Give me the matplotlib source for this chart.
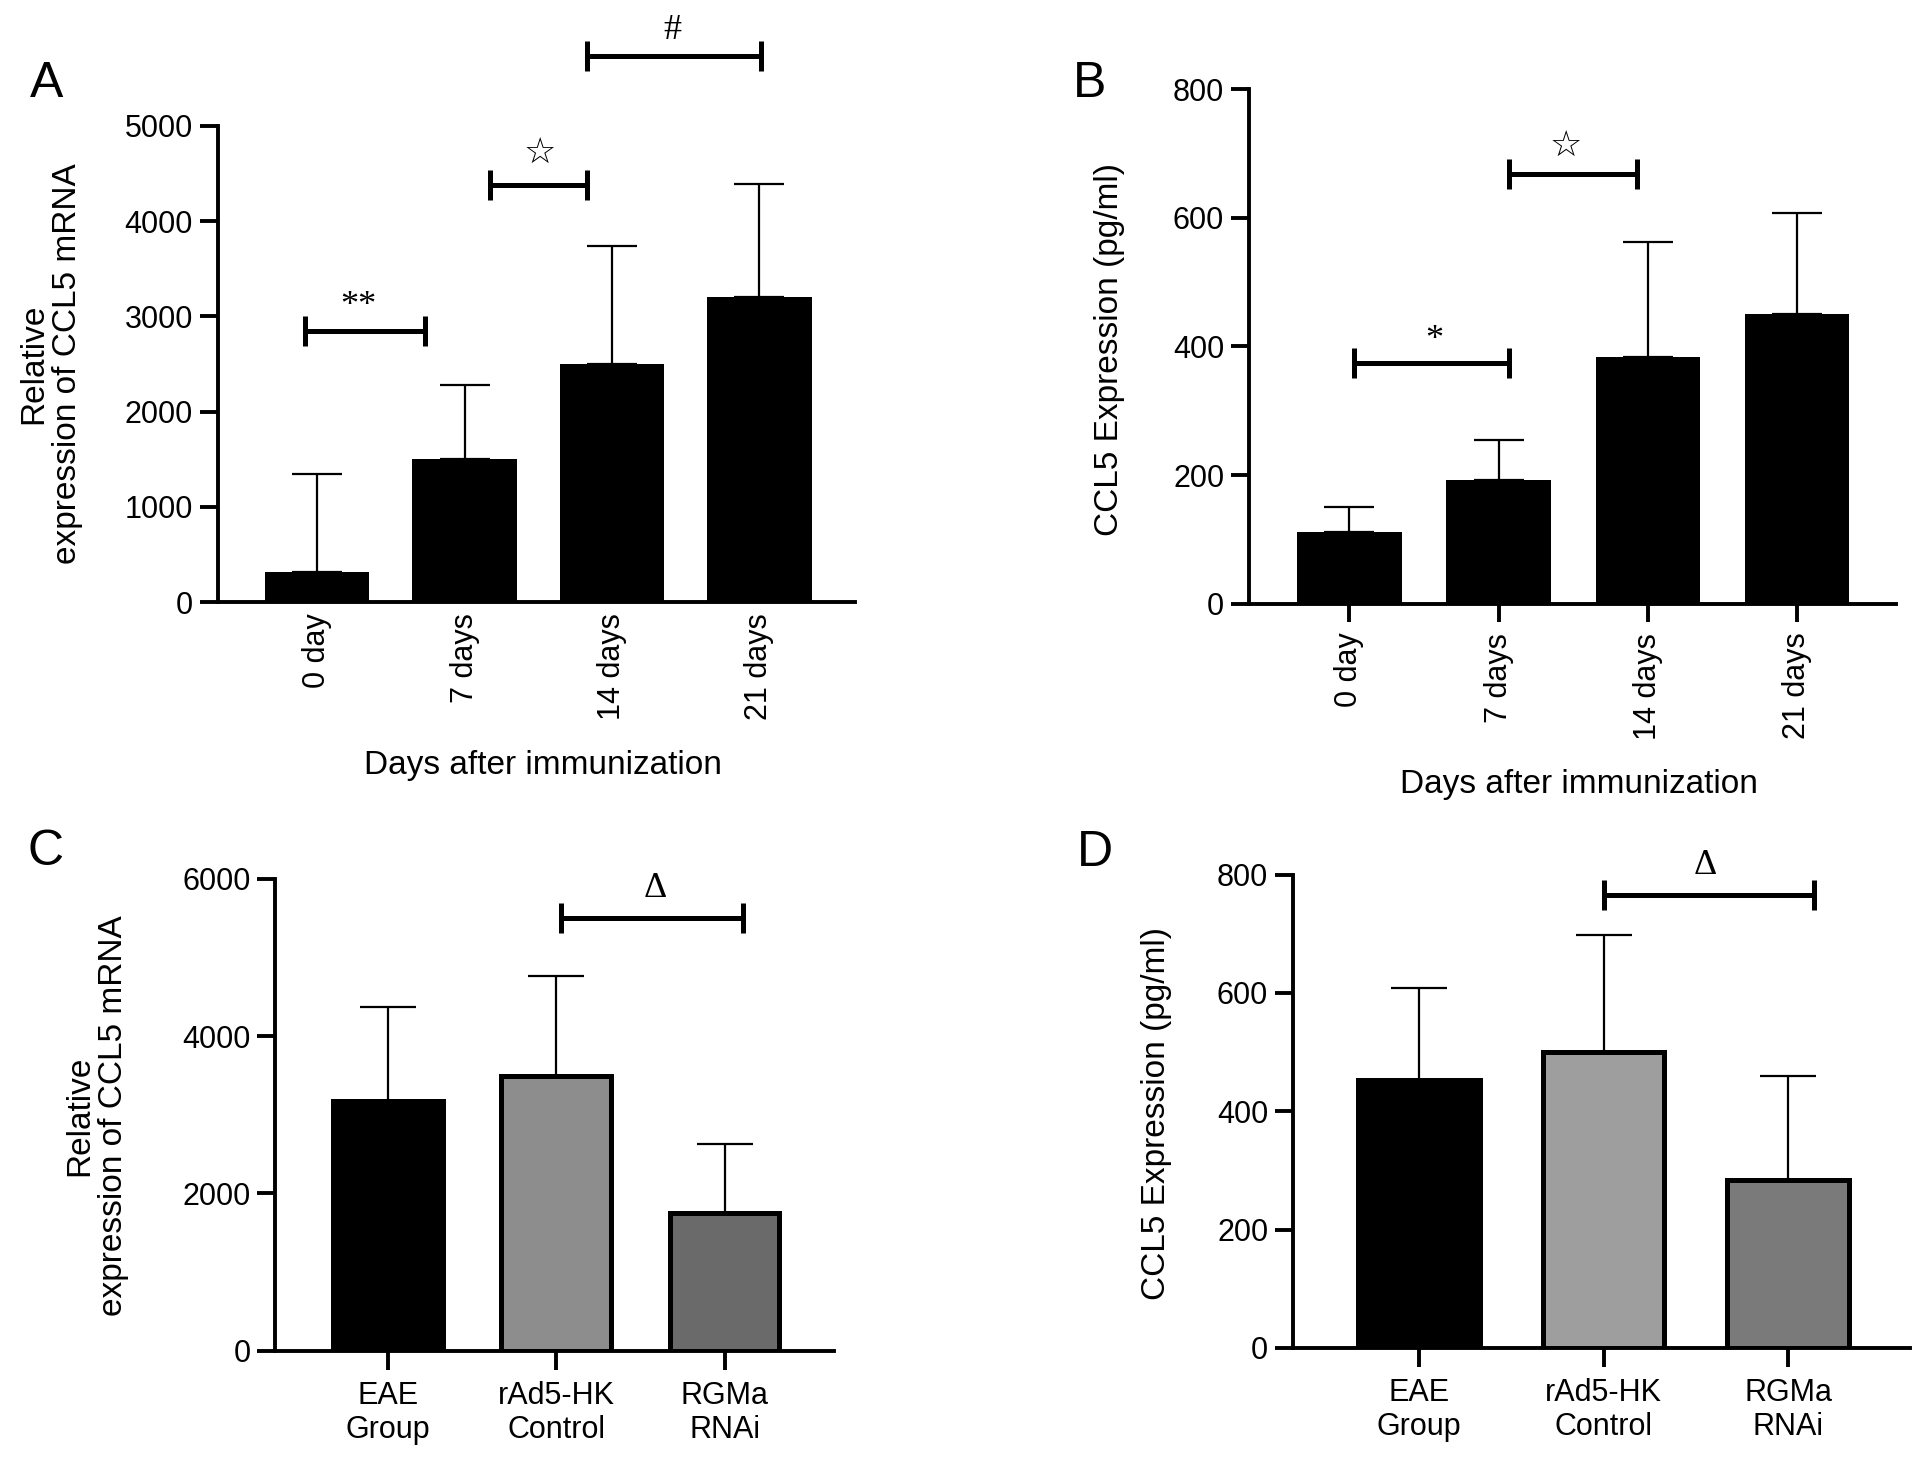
import matplotlib
matplotlib.use('Agg')
import matplotlib.pyplot as plt

plt.rcParams['font.family'] = ['Liberation Sans', 'DejaVu Sans']

# data
days = ['0 day', '7 days', '14 days', '21 days']
groups = ['EAE\nGroup', 'rAd5-HK\nControl', 'RGMa\nRNAi']

mrna_days = [320, 1500, 2500, 3200]
mrna_days_err = [1030, 780, 1240, 1190]
elisa_days = [112, 192, 383, 451]
elisa_days_err = [39, 62, 180, 157]

mrna_groups = [3180, 3500, 1750]
mrna_groups_err = [1195, 1270, 880]
elisa_groups = [452, 500, 283]
elisa_groups_err = [156, 198, 176]

# significance brackets: (x from, x to, bracket y, label, label x, label y)
sig_a = [(-0.08, 0.73, 2850, '**', 0.28, 3100),
         (1.17, 1.83, 4376, '\u2606', 1.51, 4720),
         (1.83, 3.01, 5733, '#', 2.41, 6000)]
sig_b = [(0.03, 1.07, 374, '*', 0.57, 410),
         (1.07, 1.93, 669, '\u2606', 1.45, 712)]
sig_c = [(1.03, 2.11, 5509, '\u0394', 1.59, 5880)]
sig_d = [(1.0, 2.14, 766, '\u0394', 1.55, 815)]

fig = plt.figure(figsize=(19.13, 14.65), dpi=100)


def draw_panel(rect, labels, values, errs, colors, ylim, yticks, xlim,
               width, capsize, sigs, edge_lw=0, xtick_len=13, rot=0):
    ax = fig.add_axes(rect)
    x = list(range(len(values)))
    ax.errorbar(x, values, yerr=[[0] * len(errs), errs], fmt='none',
                ecolor='black', elinewidth=1.6, capsize=capsize, capthick=1.6,
                zorder=2)
    ax.bar(x, values, width=width, color=colors, edgecolor='black',
           linewidth=edge_lw, zorder=3)
    ax.set_xlim(*xlim)
    ax.set_ylim(*ylim)
    ax.set_yticks(yticks)
    ax.set_xticks(x)
    ax.set_xticklabels(labels, rotation=rot, fontsize=22,
                       linespacing=1.15)
    ax.tick_params(axis='y', direction='out', length=13, width=2.8,
                   labelsize=22, pad=5)
    ax.tick_params(axis='x', direction='out', length=xtick_len, width=2.8,
                   labelsize=22, pad=8)
    for s in ['top', 'right']:
        ax.spines[s].set_visible(False)
    for s in ['left', 'bottom']:
        ax.spines[s].set_linewidth(2.8)
    for x1, x2, y, txt, tx, ty in sigs:
        ax.plot([x1, x2], [y, y], color='black', lw=3.6, marker='|',
                markersize=22, mew=3.6, clip_on=False, zorder=4)
        if txt == '\u2606':
            ax.text(tx, ty, txt, ha='center', va='center', fontsize=26,
                    family=['DejaVu Sans'], clip_on=False)
        else:
            ax.text(tx, ty, txt, ha='center', va='center', fontsize=26,
                    family=['Liberation Serif', 'DejaVu Serif'],
                    clip_on=False)
    return ax


# A
ax_a = draw_panel([0.114, 0.589, 0.333, 0.325], days, mrna_days,
                  mrna_days_err, 'black', (0, 5000),
                  [0, 1000, 2000, 3000, 4000, 5000], (-0.672, 3.65),
                  0.71, 18, sig_a, xtick_len=0, rot=90)
ax_a.set_ylabel('Relative\nexpression of CCL5 mRNA', fontsize=24,
                linespacing=1.1)
ax_a.yaxis.set_label_coords(-0.212, 0.5)
ax_a.set_xlabel('Days after immunization', fontsize=24)
ax_a.xaxis.set_label_coords(0.51, -0.311)
ax_a.xaxis.label.set_va('top')

# B
ax_b = draw_panel([0.653, 0.588, 0.338, 0.351], days, elisa_days,
                  elisa_days_err, 'black', (0, 800),
                  [0, 200, 400, 600, 800], (-0.67, 3.66),
                  0.70, 18, sig_b, rot=90)
ax_b.set_ylabel('CCL5 Expression (pg/ml)', fontsize=24)
ax_b.yaxis.set_label_coords(-0.192, 0.494)
ax_b.set_xlabel('Days after immunization', fontsize=24)
ax_b.xaxis.set_label_coords(0.51, -0.321)
ax_b.xaxis.label.set_va('top')

# C
ax_c = draw_panel([0.144, 0.078, 0.292, 0.322], groups, mrna_groups,
                  mrna_groups_err, ['black', '#8d8d8d', '#6a6a6a'],
                  (0, 6000), [0, 2000, 4000, 6000], (-0.667, 2.65),
                  0.65, 20, sig_c, edge_lw=3.6, xtick_len=14)
ax_c.set_ylabel('Relative\nexpression of CCL5 mRNA', fontsize=24,
                linespacing=1.1)
ax_c.yaxis.set_label_coords(-0.263, 0.498)

# D
ax_d = draw_panel([0.676, 0.080, 0.3225, 0.323], groups, elisa_groups,
                  elisa_groups_err, ['black', '#9e9e9e', '#7a7a7a'],
                  (0, 800), [0, 200, 400, 600, 800], (-0.68, 2.66),
                  0.66, 20, sig_d, edge_lw=3.6, xtick_len=14)
ax_d.set_ylabel('CCL5 Expression (pg/ml)', fontsize=24)
ax_d.yaxis.set_label_coords(-0.196, 0.495)

# panel letters
for lx, ly, letter in [(0.0157, 0.934, 'A'), (0.561, 0.934, 'B'),
                       (0.0146, 0.4096, 'C'), (0.563, 0.409, 'D')]:
    fig.text(lx, ly, letter, fontsize=36, ha='left', va='baseline')

fig.savefig('out.png', dpi=100)
